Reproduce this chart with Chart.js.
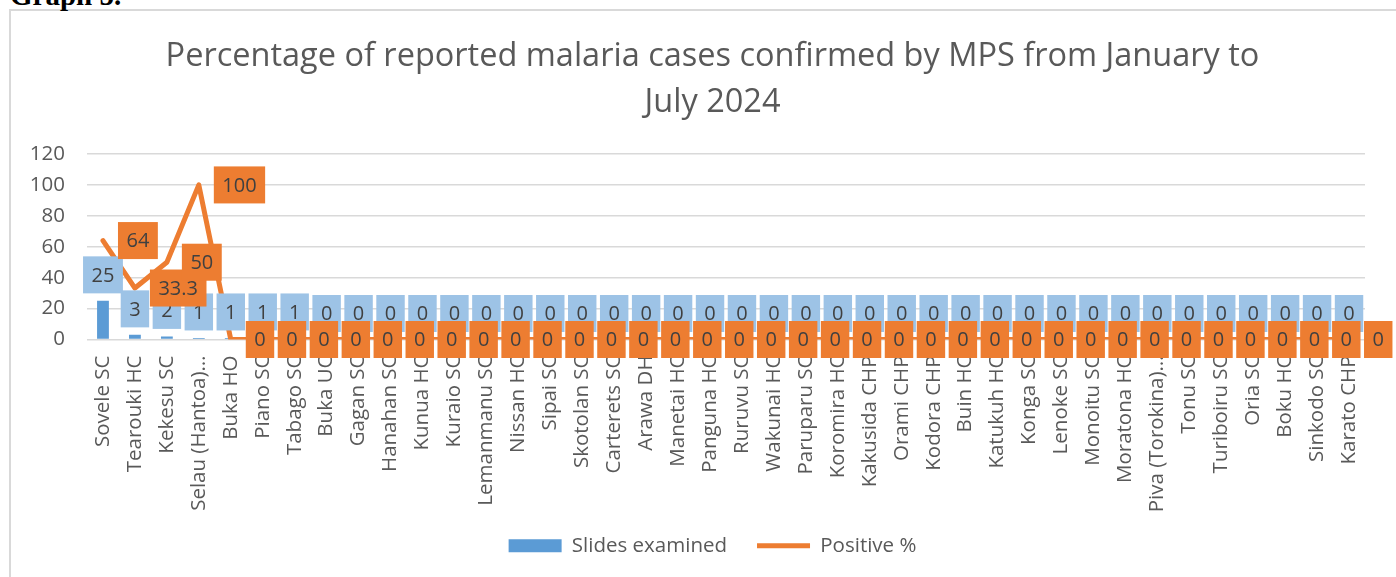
<!DOCTYPE html>
<html>
<head>
<meta charset="utf-8">
<script src="https://cdn.jsdelivr.net/npm/chart.js@4.4.1/dist/chart.umd.min.js"></script>
<style>
  body { margin: 0; background: #fff; }
  #wrap { position: relative; width: 1396px; height: 577px; overflow: hidden; }
  #frame { position: absolute; left: 9px; top: 9px; width: 1500px; height: 700px; border: 2px solid #d9d9d9; }
  #caption { position: absolute; left: 10px; top: -19px; font: bold 29px/28px "Liberation Serif", serif; color: #000; }
  canvas { position: absolute; left: 0; top: 0; }
</style>
</head>
<body>
<div id="wrap">
  <div id="frame"></div>
  <div id="caption">Graph 5.</div>
  <canvas id="chart" width="1396" height="577"></canvas>
</div>
<script>
// facilities, in the order of the picture
var categories = [
  "Sovele SC", "Tearouki HC", "Kekesu SC", "Selau (Hantoa)…", "Buka HO",
  "Piano SC", "Tabago SC", "Buka UC", "Gagan SC", "Hanahan SC",
  "Kunua HC", "Kuraio SC", "Lemanmanu SC", "Nissan HC", "Sipai SC",
  "Skotolan SC", "Carterets SC", "Arawa DH", "Manetai HC", "Panguna HC",
  "Ruruvu SC", "Wakunai HC", "Paruparu SC", "Koromira HC", "Kakusida CHP",
  "Orami CHP", "Kodora CHP", "Buin HC", "Katukuh HC", "Konga SC",
  "Lenoke SC", "Monoitu SC", "Moratona HC", "Piva (Torokina)…", "Tonu SC",
  "Turiboiru SC", "Oria SC", "Boku HC", "Sinkodo SC", "Karato CHP"
];
var slidesExamined = [
  25, 3, 2, 1, 1, 1, 1, 0, 0, 0,
  0, 0, 0, 0, 0, 0, 0, 0, 0, 0,
  0, 0, 0, 0, 0, 0, 0, 0, 0, 0,
  0, 0, 0, 0, 0, 0, 0, 0, 0, 0
];
var positivePct = [
  64, 33.3, 50, 100, 0, 0, 0, 0, 0, 0,
  0, 0, 0, 0, 0, 0, 0, 0, 0, 0,
  0, 0, 0, 0, 0, 0, 0, 0, 0, 0,
  0, 0, 0, 0, 0, 0, 0, 0, 0, 0
];
var titleLines = ["Percentage of reported malaria cases confirmed by MPS from January to", "July 2024"];

var FONT = '"Open Sans", sans-serif';

// Excel-like data labels: boxes above the bars, boxes right of the line points
var boxLabels = {
  id: 'boxLabels',
  afterDatasetsDraw: function(chart) {
    var ctx = chart.ctx;
    ctx.save();
    ctx.font = '20px ' + FONT;
    ctx.textAlign = 'center';
    ctx.textBaseline = 'middle';
    var h = 37;
    chart.getDatasetMeta(0).data.forEach(function(el, i) {
      var txt = String(slidesExamined[i]);
      var w = ctx.measureText(txt).width + 17;
      var cy = el.y - 26;
      ctx.fillStyle = '#9dc3e6';
      ctx.fillRect(el.x - w / 2, cy - h / 2, w, h);
      ctx.fillStyle = '#404040';
      ctx.fillText(txt, el.x, cy + 1);
    });
    chart.getDatasetMeta(1).data.forEach(function(el, i) {
      var txt = String(positivePct[i]);
      var w = ctx.measureText(txt).width + 17;
      var left = el.x + 15;
      ctx.fillStyle = '#ed7d31';
      ctx.fillRect(left, el.y - h / 2, w, h);
      ctx.fillStyle = '#404040';
      ctx.fillText(txt, left + w / 2, el.y + 1);
    });
    ctx.restore();
  }
};

// title and legend are centred on the whole frame, not on the plot;
// long category names may run into the legend band
var centreOnFrame = {
  id: 'centreOnFrame',
  afterLayout: function(chart) {
    var shift = 30;
    [chart.titleBlock, chart.legend].forEach(function(b) {
      if (b) { b.left += shift; b.right += shift; }
    });
    chart.scales.x.bottom = chart.height;
  }
};

var ctx = document.getElementById('chart').getContext('2d');
new Chart(ctx, {
  type: 'bar',
  data: {
    labels: categories,
    datasets: [
      {
        label: 'Slides examined',
        data: slidesExamined,
        backgroundColor: '#5b9bd5',
        borderWidth: 0,
        categoryPercentage: 1,
        barPercentage: 0.37,
        order: 1
      },
      {
        type: 'line',
        label: 'Positive %',
        data: positivePct,
        borderColor: '#ed7d31',
        backgroundColor: '#ed7d31',
        borderWidth: 5,
        borderJoinStyle: 'round',
        borderCapStyle: 'round',
        pointRadius: 0,
        tension: 0,
        order: 0
      }
    ]
  },
  options: {
    responsive: false,
    animation: false,
    layout: { padding: { left: 0, right: 31, top: 0, bottom: 11 } },
    scales: {
      x: {
        z: 1,
        grid: { display: false, drawTicks: false },
        border: { display: false },
        ticks: {
          autoSkip: false,
          maxRotation: 90,
          minRotation: 90,
          padding: 16,
          color: '#595959',
          font: { size: 20.5, family: FONT }
        },
        afterFit: function(scale) { scale.height = 166; }
      },
      y: {
        min: 0,
        max: 120,
        ticks: {
          stepSize: 20,
          padding: 22,
          color: '#595959',
          font: { size: 20.5, family: FONT }
        },
        grid: { color: '#d9d9d9', lineWidth: 1.5, drawTicks: false },
        border: { display: false },
        afterFit: function(scale) { scale.width = 87; }
      }
    },
    plugins: {
      title: {
        display: true,
        text: titleLines,
        color: '#595959',
        font: { size: 32.5, family: FONT, weight: 'normal', lineHeight: 1.4 },
        padding: { top: 34, bottom: 29 }
      },
      legend: {
        position: 'bottom',
        labels: {
          usePointStyle: true,
          pointStyleWidth: 53,
          boxHeight: 13,
          padding: 30,
          color: '#595959',
          font: { size: 20.5, family: FONT },
          generateLabels: function(chart) {
            var items = Chart.defaults.plugins.legend.labels.generateLabels(chart);
            items.sort(function(a, b) { return a.datasetIndex - b.datasetIndex; });
            items.forEach(function(it) {
              it.pointStyle = it.datasetIndex === 0 ? 'rect' : 'line';
            });
            return items;
          }
        }
      },
      tooltip: { enabled: false }
    }
  },
  plugins: [boxLabels, centreOnFrame]
});
</script>
</body>
</html>
